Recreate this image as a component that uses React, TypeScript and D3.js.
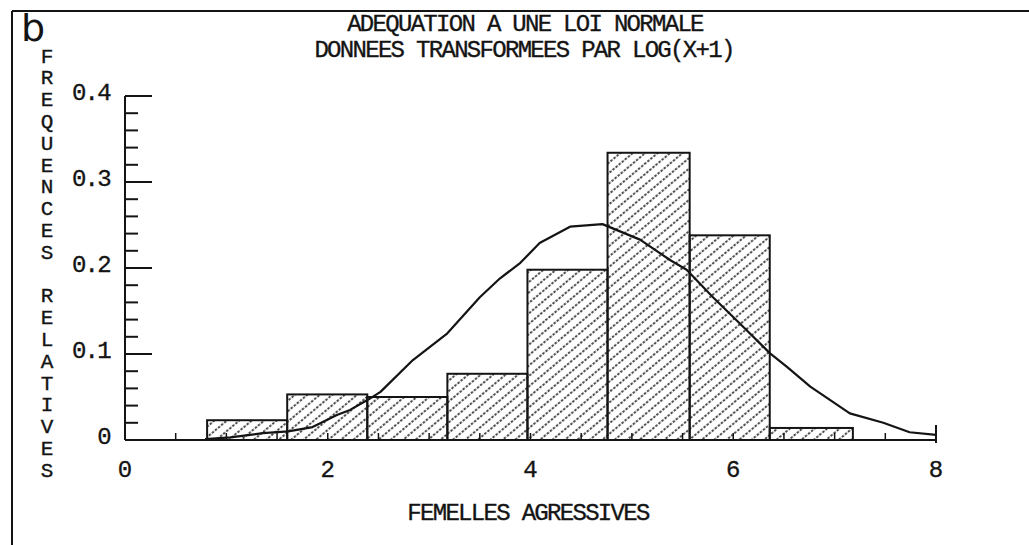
import * as d3 from 'd3'

// histogram of log(x+1) values, relative frequencies
const binEdges = [0.81, 1.6, 2.39, 3.18, 3.97, 4.76, 5.57, 6.36, 7.18]
const freqs = [0.023, 0.053, 0.05, 0.077, 0.198, 0.334, 0.238, 0.014]

// fitted normal curve
const curveX = [0.79, 1.04, 1.36, 1.61, 1.85, 2.09, 2.22, 2.4, 2.52, 2.84, 3.18, 3.5, 3.7, 3.9, 4.09, 4.39, 4.71, 5.08, 5.38, 5.54, 5.8, 6.13, 6.36, 6.53, 6.76, 7.15, 7.48, 7.74, 8.0]
const curveY = [0.001, 0.003, 0.008, 0.01, 0.015, 0.029, 0.035, 0.047, 0.056, 0.093, 0.124, 0.166, 0.188, 0.206, 0.229, 0.248, 0.251, 0.233, 0.209, 0.198, 0.166, 0.128, 0.101, 0.085, 0.062, 0.031, 0.02, 0.009, 0.006]

const xTickLabels = [0, 2, 4, 6, 8]
const yTickLabels = [0, 0.1, 0.2, 0.3, 0.4]
const xMinorTicks = [0.5, 1, 1.5, 2, 2.5, 3, 3.5, 4, 4.5, 5, 5.5, 6, 6.5, 7, 7.5]
const yMinorTicks = [0.02, 0.04, 0.06, 0.08, 0.12, 0.14, 0.16, 0.18, 0.22, 0.24, 0.26, 0.28, 0.32, 0.34, 0.36, 0.38]

const title1 = 'ADEQUATION A UNE LOI NORMALE'
const title2 = 'DONNEES TRANSFORMEES PAR LOG(X+1)'
const xTitle = 'FEMELLES AGRESSIVES'
const yTitle = 'FREQUENCES RELATIVES'

const W = 1029
const H = 545
const INK = '#141414'
const MONO = '"Liberation Mono", "DejaVu Sans Mono", monospace'

export default function App() {
  const x = d3.scaleLinear().domain([0, 8]).range([125, 936])
  const y = d3.scaleLinear().domain([0, 0.4]).range([440, 96])

  const pts = curveX.map((v, i) => [v, curveY[i]] as [number, number])
  const line = d3
    .line<[number, number]>()
    .x(d => x(d[0]))
    .y(d => y(d[1]))

  const yLetterTop = 57
  const yLetterStep = 21.8

  // printer-like text: slightly condensed, a bit heavier
  const textStyle = {
    fontFamily: MONO,
    fontSize: 24,
    letterSpacing: -1.7,
    fill: INK,
    stroke: INK,
    strokeWidth: 0.35,
  }

  return (
    <svg
      width={W}
      height={H}
      style={{ position: 'absolute', left: 0, top: 0, background: '#fff' }}
    >
      <defs>
        <pattern
          id="hatch"
          patternUnits="userSpaceOnUse"
          width={8}
          height={8}
          patternTransform="rotate(-40)"
        >
          <line x1={0} y1={4} x2={8} y2={4} stroke={INK} strokeWidth={1.7} strokeDasharray="2.5 1.5" />
        </pattern>
      </defs>

      {/* frame */}
      <line x1={12} y1={11} x2={W} y2={11} stroke={INK} strokeWidth={2} />
      <line x1={12} y1={11} x2={12} y2={H} stroke={INK} strokeWidth={2} />
      <text x={21} y={41} fontFamily='"DejaVu Sans", sans-serif' fontSize={38} fill={INK}>
        b
      </text>

      {/* titles */}
      <g style={textStyle} textAnchor="middle">
        <text x={525} y={25} dominantBaseline="middle">{title1}</text>
        <text x={524} y={51} dominantBaseline="middle">{title2}</text>
        <text x={528} y={514} dominantBaseline="middle">{xTitle}</text>
      </g>

      {/* stacked y title */}
      <g style={{ ...textStyle, fontSize: 21, letterSpacing: 0 }} textAnchor="middle">
        {yTitle.split('').map((c, i) => (
          <text key={i} x={47} y={yLetterTop + i * yLetterStep} dominantBaseline="middle">
            {c}
          </text>
        ))}
      </g>

      {/* x minor ticks (under the bars) */}
      {xMinorTicks.map(t => (
        <line key={t} x1={x(t)} x2={x(t)} y1={y(0)} y2={y(0) - 7} stroke={INK} strokeWidth={1.5} />
      ))}

      {/* bars */}
      {freqs.map((f, i) => (
        <rect
          key={i}
          x={x(binEdges[i])}
          y={y(f)}
          width={x(binEdges[i + 1]) - x(binEdges[i])}
          height={y(0) - y(f)}
          fill="url(#hatch)"
          stroke={INK}
          strokeWidth={2}
        />
      ))}

      {/* normal curve */}
      <path d={line(pts) ?? ''} fill="none" stroke={INK} strokeWidth={2.2} strokeLinejoin="round" />

      {/* axes */}
      <line x1={x(0)} x2={x(8)} y1={y(0)} y2={y(0)} stroke={INK} strokeWidth={2} />
      <line x1={x(8)} x2={x(8)} y1={y(0) - 15} y2={y(0) + 3} stroke={INK} strokeWidth={2} />
      <line x1={x(0)} x2={x(0)} y1={y(0)} y2={y(0.4)} stroke={INK} strokeWidth={2} />
      {yTickLabels.filter(t => t > 0).map(t => (
        <line key={t} x1={x(0)} x2={x(0) + 27} y1={y(t)} y2={y(t)} stroke={INK} strokeWidth={2} />
      ))}
      {yMinorTicks.map(t => (
        <line key={t} x1={x(0)} x2={x(0) + 13} y1={y(t)} y2={y(t)} stroke={INK} strokeWidth={2} />
      ))}

      {/* tick labels */}
      <g style={textStyle}>
        {yTickLabels.map(t => (
          <text key={t} x={110} y={y(t) - 2} textAnchor="end" dominantBaseline="middle">
            {t === 0 ? '0' : t.toFixed(1)}
          </text>
        ))}
        {xTickLabels.map(t => (
          <text key={t} x={x(t) - 1} y={471} textAnchor="middle" dominantBaseline="middle">
            {t}
          </text>
        ))}
      </g>
    </svg>
  )
}
